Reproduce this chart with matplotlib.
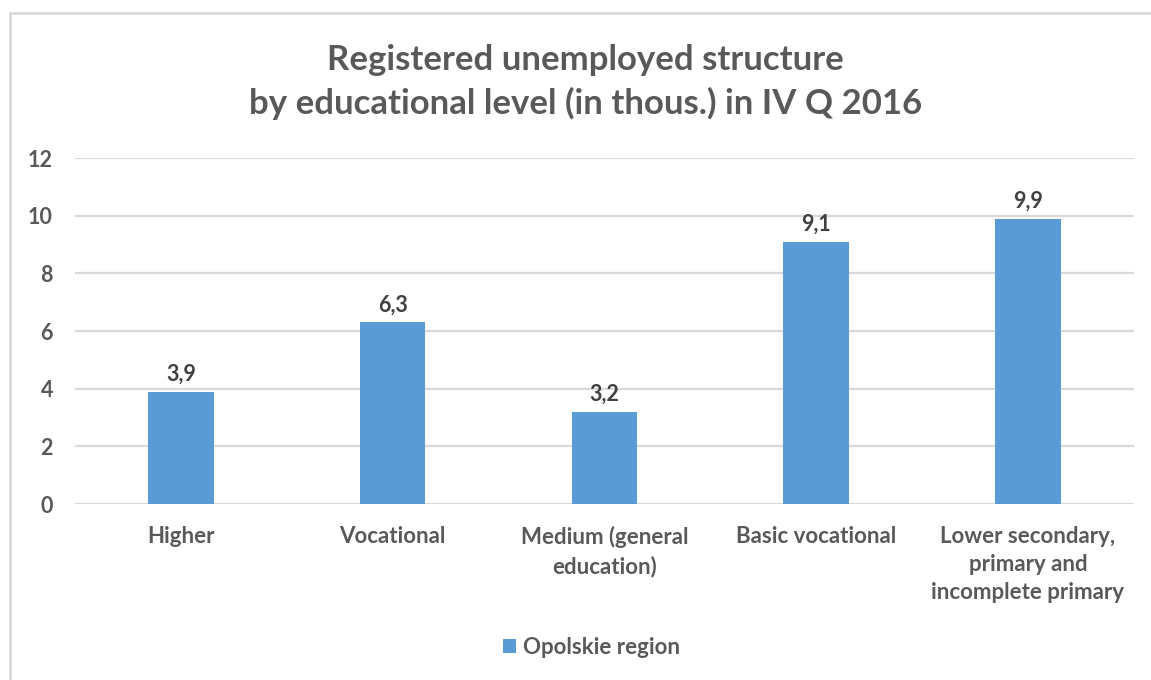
import matplotlib.pyplot as plt
from matplotlib.patches import Rectangle

categories = ['Higher', 'Vocational', 'Medium (general\neducation)',
              'Basic vocational', 'Lower secondary,\nprimary and\nincomplete primary']
values = [3.9, 6.3, 3.2, 9.1, 9.9]
value_labels = ['3,9', '6,3', '3,2', '9,1', '9,9']
series_name = 'Opolskie region'
title = 'Registered unemployed structure\nby educational level (in thous.) in IV Q 2016'

bar_color = '#5B9BD5'
text_color = '#595959'
grid_color = '#D9D9D9'

plt.rcParams['font.family'] = ['Lato', 'DejaVu Sans']
plt.rcParams['font.weight'] = 'bold'

fig = plt.figure(figsize=(11.51, 6.80), dpi=100)
ax = fig.add_axes([0.0652, 0.2588, 0.9198, 0.5088])

x = list(range(len(categories)))
bars = ax.bar(x, values, width=0.31, color=bar_color, label=series_name, zorder=3)

for xi, v, lab in zip(x, values, value_labels):
    ax.annotate(lab, (xi, v), xytext=(0, 5), textcoords='offset points',
                ha='center', va='bottom', fontsize=15.5, fontweight='bold', color='#404040')

ax.set_xlim(-0.5, len(categories) - 0.5)
ax.set_ylim(0, 12)
ax.set_yticks(range(0, 13, 2))
ax.set_xticks(x)
ax.set_xticklabels(categories, fontsize=16, fontweight='bold', color=text_color,
                   linespacing=1.4, va='top')
ax.tick_params(axis='x', length=0, pad=16)
ax.tick_params(axis='y', length=0, pad=16, labelsize=15.5, labelcolor=text_color)
for t in ax.get_yticklabels():
    t.set_fontweight('bold')

ax.grid(axis='y', color=grid_color, linewidth=1.6, zorder=0)
for s in ax.spines.values():
    s.set_visible(False)

fig.text(0.509, 0.879, title, ha='center', va='center', fontsize=25,
         fontweight='bold', color=text_color, linespacing=1.4)

fig.legend(handles=[bars], labels=[series_name], loc='center', bbox_to_anchor=(0.514, 0.048),
           frameon=False, fontsize=16, handlelength=0.6, handleheight=0.6,
           handletextpad=0.3, labelcolor=text_color)

# chart frame (only left and top edges visible in the reference)
fig.patches.append(Rectangle((10 / 1151, -0.1), 1.2, 1 - 13 / 680 + 0.1,
                             transform=fig.transFigure, fill=False,
                             edgecolor='#D9D9D9', linewidth=2))

fig.savefig('out.png', dpi=100)
